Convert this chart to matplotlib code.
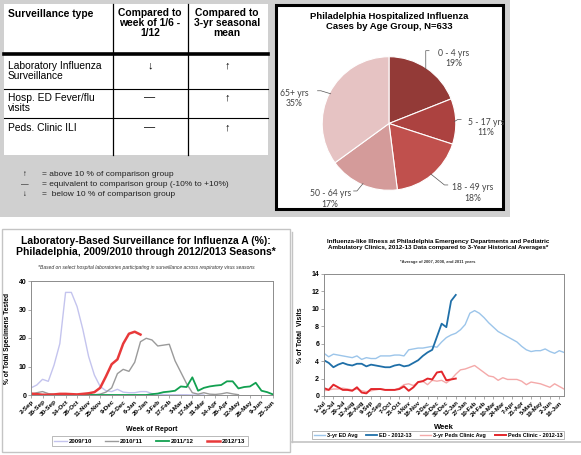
import numpy as np
import matplotlib
matplotlib.use("Agg")
import matplotlib.pyplot as plt
from matplotlib.patches import Rectangle

plt.rcParams['font.family'] = ['Liberation Sans', 'DejaVu Sans']

W, H = 581, 455

# ---- table data ----
table_header = ["Surveillance type", "Compared to\nweek of 1/6 -\n1/12", "Compared to\n3-yr seasonal\nmean"]
table_rows = ["Laboratory Influenza\nSurveillance", "Hosp. ED Fever/flu\nvisits", "Peds. Clinic ILI"]
vs_week = ["\u2193", "\u2014", "\u2014"]
vs_mean = ["\u2191", "\u2191", "\u2191"]
key_symbols = ["\u2191", "\u2014", "\u2193"]
key_texts = ["= above 10 % of comparison group",
             "= equivalent to comparison group (-10% to +10%)",
             "=  below 10 % of comparison group"]

# ---- pie data ----
age_groups = ["0 - 4 yrs", "5 - 17 yrs", "18 - 49 yrs", "50 - 64 yrs", "65+ yrs"]
age_pct = [19, 11, 18, 17, 35]
age_colors = ["#933a37", "#ac4240", "#c0504d", "#d49b9a", "#e6c3c3"]

# ---- lab surveillance data (weekly, starting 2-Sep) ----
lab_ticks = ["2-Sep", "16-Sep", "30-Sep", "14-Oct", "28-Oct", "11-Nov", "25-Nov", "9-Dec",
             "23-Dec", "6-Jan", "20-Jan", "3-Feb", "17-Feb", "3-Mar", "17-Mar", "31-Mar",
             "14-Apr", "28-Apr", "12-May", "26-May", "9-Jun", "23-Jun"]
s0910 = [2.5, 3.5, 5.5, 4.8, 10.5, 18, 36, 36, 31, 23, 13.5, 7, 3, 1.5, 1.2, 2, 1, 0.8, 0.8,
         1.2, 1.2, 0.5, 0.3, 0.2, 0.1, 0.1, 0.1, 0.1, 0, 0, 0]
s1011 = [0.3, 0.8, 1.2, 0.5, 0.2, 0.1, 0.1, 0.1, 0.1, 0.1, 0.1, 0.1, 0.3, 1.0, 2.5, 7.5, 9.0,
         8.3, 11.5, 18.7, 19.9, 19.3, 17.2, 17.5, 17.8, 12, 8, 4, 0.8, 0.3, 0.8, 0.3, 0.2,
         0.4, 0.8, 0.4, 0.1]
s1112 = [0, 0, 0, 0, 0, 0, 0, 0, 0, 0, 0, 0, 0, 0, 0, 0, 0, 0, 0, 0, 0, 0.3, 0.5, 1.0, 1.2,
         1.5, 3.0, 2.8, 6.2, 1.5, 2.5, 3.0, 3.3, 3.5, 4.8, 4.8, 2.3, 2.8, 3.0, 4.3, 1.5, 1.0, 0.2]
s1213 = [0.5, 0.3, 0.1, 0.1, 0.2, 0.4, 0.4, 0.3, 0.2, 0.4, 0.6, 1.0, 2.5, 6.5, 10.8, 12.5,
         18, 21.5, 22.2, 21.2]
lab_labels = ["2009/'10", "2010/'11", "2011/'12", "2012/'13"]
lab_colors = ["#c4c4ee", "#9a9a9a", "#12a050", "#e8393a"]
lab_widths = [1.0, 1.0, 1.3, 1.8]

# ---- ILI data (weekly, starting 1-Jul) ----
ili_ticks = ["1-Jul", "15-Jul", "29-Jul", "12-Aug", "26-Aug", "9-Sep", "23-Sep", "7-Oct",
             "21-Oct", "4-Nov", "18-Nov", "2-Dec", "16-Dec", "30-Dec", "13-Jan", "27-Jan",
             "10-Feb", "24-Feb", "10-Mar", "24-Mar", "7-Apr", "21-Apr", "5-May", "19-May",
             "2-Jun", "16-Jun"]
ed_avg = [4.9, 4.5, 4.8, 4.7, 4.6, 4.5, 4.4, 4.6, 4.2, 4.4, 4.3, 4.3, 4.6, 4.6, 4.6, 4.7,
          4.7, 4.6, 5.3, 5.4, 5.5, 5.5, 5.6, 5.7, 5.6, 6.2, 6.7, 7.0, 7.2, 7.6, 8.2, 9.5,
          9.8, 9.5, 9.0, 8.4, 7.9, 7.4, 7.1, 6.8, 6.5, 6.2, 5.7, 5.3, 5.1, 5.2, 5.2, 5.4,
          5.1, 4.9, 5.2, 5.0]
ed_1213 = [4.1, 3.8, 3.3, 3.6, 3.8, 3.6, 3.5, 3.7, 3.7, 3.4, 3.6, 3.5, 3.4, 3.3, 3.3, 3.5,
           3.6, 3.4, 3.5, 3.8, 4.1, 4.6, 5.0, 5.3, 6.8, 8.3, 7.9, 10.9, 11.6]
peds_avg = [0.6, 0.7, 0.8, 0.8, 0.9, 0.8, 0.7, 0.8, 0.6, 0.5, 0.6, 0.7, 0.8, 0.7, 0.7, 0.7,
            0.9, 1.3, 1.4, 1.2, 1.6, 1.7, 1.3, 1.8, 1.7, 1.8, 1.5, 1.9, 2.5, 3.0, 3.1, 3.3,
            3.5, 3.1, 2.7, 2.3, 2.2, 1.8, 2.1, 1.9, 1.9, 1.9, 1.7, 1.3, 1.6, 1.5, 1.4, 1.2,
            1.0, 1.4, 1.1, 0.8]
peds_1213 = [0.9, 0.7, 1.3, 1.0, 0.7, 0.7, 0.6, 1.0, 0.4, 0.3, 0.8, 0.8, 0.8, 0.7, 0.7, 0.7,
             0.8, 1.1, 0.6, 1.0, 1.6, 1.7, 2.0, 1.9, 2.7, 2.8, 1.8, 1.9, 2.0]
ili_labels = ["3-yr ED Avg", "ED - 2012-13", "3-yr Peds Clinic Avg", "Peds Clinic - 2012-13"]
ili_colors = ["#9cc5ea", "#1f6fa8", "#f4a9a9", "#e3262b"]
ili_widths = [1.0, 1.3, 1.0, 1.4]


def px_rect(x0, y0, x1, y1):
    return [x0 / W, 1 - y1 / H, (x1 - x0) / W, (y1 - y0) / H]


fig = plt.figure(figsize=(W / 100, H / 100), dpi=100)

# background layer in pixel coordinates
bg = fig.add_axes([0, 0, 1, 1])
bg.set_xlim(0, W)
bg.set_ylim(H, 0)
bg.axis('off')
bg.add_patch(Rectangle((0, 0), 510, 217, color='#d0d0d0', lw=0))

# table
bg.add_patch(Rectangle((4, 4), 264, 151, color='white', lw=0))
for x in (113, 188):
    bg.plot([x, x], [4, 155], color='black', lw=0.9)
bg.plot([4, 268], [54, 54], color='black', lw=2.6)
for y in (89, 118):
    bg.plot([4, 268], [y, y], color='black', lw=0.8)
bg.text(8, 9, table_header[0], fontsize=7.4, fontweight='bold', va='top')
bg.text(150, 8, table_header[1], fontsize=7.4, fontweight='bold', va='top', ha='center', linespacing=1.0)
bg.text(227, 8, table_header[2], fontsize=7.4, fontweight='bold', va='top', ha='center', linespacing=1.0)
row_tops = [61, 93, 123]
for i, name in enumerate(table_rows):
    bg.text(8, row_tops[i], name, fontsize=7.4, va='top', linespacing=1.05)
    bg.text(150, row_tops[i] - 1, vs_week[i], fontsize=8, va='top', ha='center')
    bg.text(227, row_tops[i] - 1, vs_mean[i], fontsize=8, va='top', ha='center')
for i in range(3):
    bg.text(25, 175 + i * 9.5, key_symbols[i], fontsize=5.5, va='center', ha='center')
    bg.text(42, 175 + i * 9.5, key_texts[i], fontsize=6.0, va='center', color='#222222')

# pie box
bg.add_patch(Rectangle((276, 5), 227, 204, facecolor='white', edgecolor='black', lw=2.2))
bg.text(389, 12, "Philadelphia Hospitalized Influenza\nCases by Age Group, N=633",
        fontsize=6.8, fontweight='bold', ha='center', va='top', linespacing=1.15)

# lower panels frames
bg.add_patch(Rectangle((2, 229), 288, 223, facecolor='white', edgecolor='#c4c4c4', lw=1))
bg.plot([292, 292], [232, 442], color='#c4c4c4', lw=1)
bg.plot([292, 581], [442, 442], color='#c4c4c4', lw=1.2)

# ---- pie ----
R = 64
cx, cy = 389, 123
pax = fig.add_axes(px_rect(278, 40, 500, 207))
pax.set_xlim((278 - cx) / R, (500 - cx) / R)
pax.set_ylim((cy - 207) / R, (cy - 40) / R)
pax.set_aspect('auto')
pax.axis('off')
wedges, _ = pax.pie(age_pct, colors=age_colors, startangle=90, counterclock=False,
                    radius=1, wedgeprops=dict(edgecolor='white', linewidth=0.8))
label_pos = [(0.97, 0.97), (1.45, -0.06), (1.25, -1.04), (-0.88, -1.13), (-1.42, 0.37)]
for w, lab, pct, (tx, ty) in zip(wedges, age_groups, age_pct, label_pos):
    ang = np.deg2rad((w.theta1 + w.theta2) / 2)
    ex, ey = np.cos(ang), np.sin(ang)
    pax.text(tx, ty, f"{lab}\n{pct}%", fontsize=6.2, color='#444444', ha='center',
             va='center', family=['Lato', 'DejaVu Sans'], linespacing=1.2)
    hx = tx - 0.42 if tx > 0 else tx + 0.4
    pax.plot([ex * 0.98, hx, hx + (0.05 if tx > 0 else -0.05)],
             [ey * 0.98, ty + 0.12, ty + 0.12], color='#555555', lw=0.5)

# ---- lab surveillance chart ----
bg.text(146, 236, "Laboratory-Based Surveillance for Influenza A (%):\n"
        "Philadelphia, 2009/2010 through 2012/2013 Seasons*",
        fontsize=7.5, fontweight='bold', ha='center', va='top', linespacing=1.1)
bg.text(146, 267, "*Based on select hospital laboratories participating in surveillance across respiratory virus seasons",
        fontsize=3.6, style='italic', ha='center', va='center', color='#333333')
lax = fig.add_axes(px_rect(31, 281, 273, 395))
for vals, lab, col, lw in zip([s0910, s1011, s1112, s1213], lab_labels, lab_colors, lab_widths):
    lax.plot(np.arange(len(vals)), vals, color=col, lw=lw, label=lab)
lax.set_xlim(0, 42)
lax.set_ylim(0, 40)
lax.set_yticks([0, 10, 20, 30, 40])
lax.set_xticks(np.arange(0, 43, 2))
lax.set_xticklabels(lab_ticks, rotation=45, ha='right', rotation_mode='anchor')
lax.tick_params(axis='x', labelsize=4.6, length=2, width=0.5, pad=1, color='#888888')
lax.tick_params(axis='y', labelsize=5, length=2, width=0.5, pad=1.5, color='#888888')
for t in lax.get_xticklabels() + lax.get_yticklabels():
    t.set_fontweight('bold')
for sp in lax.spines.values():
    sp.set_color('#8c8c8c')
    sp.set_linewidth(0.7)
lax.set_ylabel("% of Total Specimens Tested", fontsize=4.8, fontweight='bold', labelpad=5)
lax.set_xlabel("Week of Report", fontsize=5, fontweight='bold', labelpad=6)
leg = lax.legend(loc='center', bbox_to_anchor=(0.49, -0.405), ncol=4, fontsize=4.3,
                 frameon=True, fancybox=False, edgecolor='#9a9a9a', handlelength=2.2,
                 columnspacing=2.2, handletextpad=0.3, borderpad=0.35)
leg.get_frame().set_linewidth(0.6)
for t in leg.get_texts():
    t.set_fontweight('bold')

# ---- ILI chart ----
bg.text(438, 239, "Influenza-like Illness at Philadelphia Emergency Departments and Pediatric\n"
        "Ambulatory Clinics, 2012-13 Data compared to 3-Year Historical Averages*",
        fontsize=4.5, fontweight='bold', ha='center', va='top', linespacing=1.25)
bg.text(438, 262, "*Average of 2007, 2008, and 2011 years", fontsize=3.0, fontweight='bold',
        ha='center', va='center', color='#333333')
iax = fig.add_axes(px_rect(324, 274, 564, 396))
for vals, lab, col, lw in zip([ed_avg, ed_1213, peds_avg, peds_1213], ili_labels, ili_colors, ili_widths):
    iax.plot(np.arange(len(vals)), vals, color=col, lw=lw, label=lab)
iax.set_xlim(0, 51)
iax.set_ylim(0, 14)
iax.set_yticks(np.arange(0, 15, 2))
iax.set_xticks(np.arange(0, 52, 2))
iax.set_xticklabels(ili_ticks, rotation=45, ha='right', rotation_mode='anchor')
iax.tick_params(axis='x', labelsize=4.3, length=2, width=0.5, pad=1, color='#888888')
iax.tick_params(axis='y', labelsize=5, length=2, width=0.5, pad=1.5, color='#888888')
for t in iax.get_xticklabels() + iax.get_yticklabels():
    t.set_fontweight('bold')
for sp in iax.spines.values():
    sp.set_color('#8c8c8c')
    sp.set_linewidth(0.7)
iax.set_ylabel("% of Total  Visits", fontsize=5, fontweight='bold', labelpad=5)
iax.set_xlabel("Week", fontsize=5.5, fontweight='bold', labelpad=4)
leg2 = iax.legend(loc='center', bbox_to_anchor=(0.475, -0.32), ncol=4, fontsize=4.0,
                  frameon=True, fancybox=False, edgecolor='#9a9a9a', handlelength=2.0,
                  columnspacing=1.6, handletextpad=0.3, borderpad=0.35)
leg2.get_frame().set_linewidth(0.6)
for t in leg2.get_texts():
    t.set_fontweight('bold')

fig.savefig("out.png", dpi=100)
